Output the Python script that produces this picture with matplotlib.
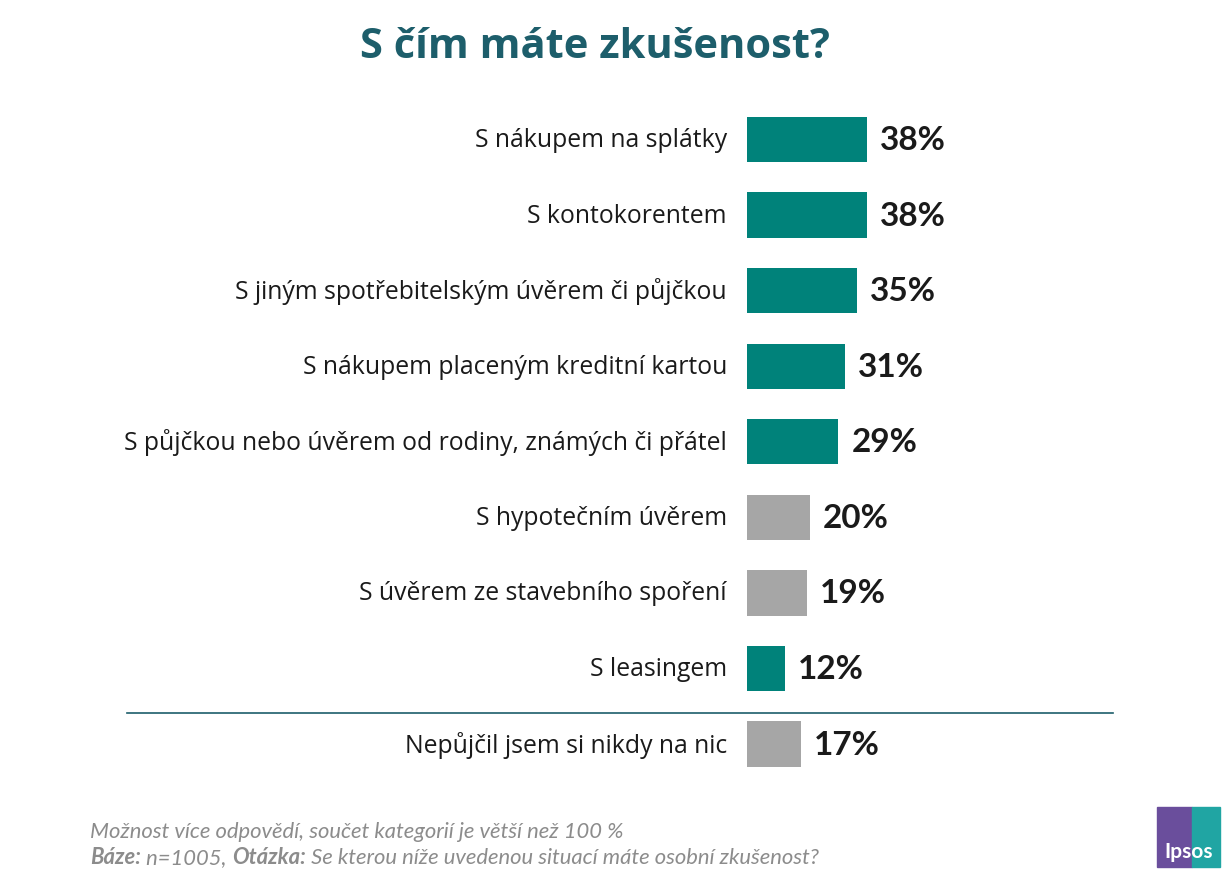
import matplotlib.pyplot as plt
import matplotlib.patches as mpatches

# Data
labels = [
    'S nákupem na splátky',
    'S kontokorentem',
    'S jiným spotřebitelským úvěrem či půjčkou',
    'S nákupem placeným kreditní kartou',
    'S půjčkou nebo úvěrem od rodiny, známých či přátel',
    'S hypotečním úvěrem',
    'S úvěrem ze stavebního spoření',
    'S leasingem',
    'Nepůjčil jsem si nikdy na nic',
]
values = [38, 38, 35, 31, 29, 20, 19, 12, 17]
highlight = [True, True, True, True, True, False, False, True, False]

footer_parts = [('Báze:', 'bold'), (' n=1005, ', 'normal'), ('Otázka:', 'bold'),
                (' Se kterou níže uvedenou situací máte osobní zkušenost?', 'normal')]

TEAL = '#00827A'
GREY = '#A6A6A6'
TITLE_COL = '#1D5E6B'
FOOT_COL = '#8C8C8C'

plt.rcParams['font.family'] = ['Lato', 'DejaVu Sans']

fig = plt.figure(figsize=(12.22, 8.87), dpi=100)
W, H = 1222, 887

# bar axes: left edge at x=747 px, about 3.15 px per percent
ax_w = 300
ax = fig.add_axes([747 / W, 1 - 782.8 / H, ax_w / W, 680 / H])
ypos = list(range(len(values)))
colors = [TEAL if h else GREY for h in highlight]
ax.barh(ypos, values, height=0.6, color=colors)
ax.set_xlim(0, ax_w / 3.15)
ax.set_ylim(len(values) - 0.5, -0.5)
ax.axis('off')

for y, v, lab in zip(ypos, values, labels):
    ax.annotate(lab, xy=(0, y), xytext=(-20, 0), textcoords='offset pixels',
                ha='right', va='center', fontsize=17.8, family=['Open Sans', 'DejaVu Sans'],
                color='#1a1a1a')
    ax.annotate(f'{v}%', xy=(v, y), xytext=(13, 0), textcoords='offset pixels',
                ha='left', va='center', fontsize=24, fontweight='bold', color='#1a1a1a')

# separator line above the last row
fig.add_artist(plt.Line2D([127 / W, 1113 / W], [1 - 714 / H, 1 - 714 / H],
                          color=TITLE_COL, lw=1.2))

# title
fig.text(595 / W, 1 - 47 / H, 'S čím máte zkušenost?', ha='center', va='center',
         fontsize=30, fontweight='bold', family=['Open Sans', 'DejaVu Sans'], color=TITLE_COL)

# footer
fig.text(90 / W, 1 - 838 / H, 'Možnost více odpovědí, součet kategorií je větší než 100 %',
         ha='left', va='baseline', fontsize=15.8, style='italic', color=FOOT_COL)

fig.canvas.draw()
r = fig.canvas.get_renderer()
x = 90 / W
for txt, wt in footer_parts:
    t = fig.text(x, 1 - 864 / H, txt, ha='left', va='baseline', fontsize=15.8,
                 style='italic', fontweight=wt, color=FOOT_COL)
    x += t.get_window_extent(renderer=r).width / W

# Ipsos logo
lx, ly, lw, lh = 1157, 808, 63, 60
fig.add_artist(mpatches.Rectangle((lx / W, 1 - (ly + lh) / H), 35 / W, lh / H,
                                  transform=fig.transFigure, color='#6A4E9C'))
fig.add_artist(mpatches.Rectangle(((lx + 35) / W, 1 - (ly + lh) / H), (lw - 35) / W, lh / H,
                                  transform=fig.transFigure, color='#20A5A3'))
fig.text((lx + lw / 2) / W, 1 - (ly + 44) / H, 'Ipsos', ha='center', va='center',
         fontsize=15, fontweight='bold', color='white')

fig.savefig('out.png', dpi=100)
